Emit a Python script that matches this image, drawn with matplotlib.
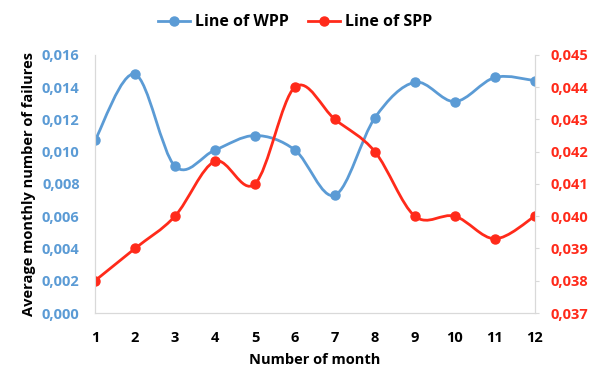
import numpy as np
import matplotlib.pyplot as plt
from matplotlib.path import Path
from matplotlib.patches import PathPatch
from matplotlib.ticker import FuncFormatter, MultipleLocator

months = [1, 2, 3, 4, 5, 6, 7, 8, 9, 10, 11, 12]
wpp = [0.0107, 0.0148, 0.0091, 0.0101, 0.0110, 0.0101, 0.0073, 0.0121, 0.0143, 0.0131, 0.0146, 0.0144]
spp = [0.0380, 0.0390, 0.0400, 0.0417, 0.0410, 0.0440, 0.0430, 0.0420, 0.0400, 0.0400, 0.0393, 0.0400]

blue = '#5B9BD5'
red = '#FF2A1A'
plt.rcParams['font.family'] = ['Open Sans', 'DejaVu Sans']
plt.rcParams['font.weight'] = 'bold'
plt.rcParams['axes.labelweight'] = 'bold'


def smooth_path(x, y):
    # excel style smoothed line: bezier segments through each point
    x = np.asarray(x, float)
    y = np.asarray(y, float)
    verts = [(x[0], y[0])]
    codes = [Path.MOVETO]
    n = len(x)
    for i in range(n - 1):
        p0 = i - 1 if i > 0 else i
        p3 = i + 2 if i + 2 < n else i + 1
        c1 = (x[i] + (x[i + 1] - x[p0]) / 6, y[i] + (y[i + 1] - y[p0]) / 6)
        c2 = (x[i + 1] - (x[p3] - x[i]) / 6, y[i + 1] - (y[p3] - y[i]) / 6)
        verts += [c1, c2, (x[i + 1], y[i + 1])]
        codes += [Path.CURVE4] * 3
    return Path(verts, codes)


fig = plt.figure(figsize=(5.96, 3.72), dpi=100)
ax = fig.add_axes([0.1594, 0.1586, 0.738, 0.694])
ax2 = ax.twinx()

ax.add_patch(PathPatch(smooth_path(months, wpp), fill=False, edgecolor=blue, lw=2))
ax.plot(months, wpp, 'o', color=blue, ms=6.5)
ax2.add_patch(PathPatch(smooth_path(months, spp), fill=False, edgecolor=red, lw=2))
ax2.plot(months, spp, 'o', color=red, ms=6.5)

ax.set_xlim(1, 12)
ax.set_ylim(0, 0.016)
ax2.set_ylim(0.037, 0.045)
ax.set_xticks(months)
ax.yaxis.set_major_locator(MultipleLocator(0.002))
ax2.yaxis.set_major_locator(MultipleLocator(0.001))
ax.yaxis.set_major_formatter(FuncFormatter(lambda v, p: f'{v:.3f}'.replace('.', ',')))
ax2.yaxis.set_major_formatter(FuncFormatter(lambda v, p: f'{v:.3f}'.replace('.', ',')))

for a in (ax, ax2):
    for s in a.spines.values():
        s.set_color('#D9D9D9')
    a.spines['top'].set_visible(False)
ax.tick_params(axis='y', length=0, pad=11, labelsize=10.5, labelcolor=blue)
ax.tick_params(axis='x', length=0, pad=13, labelsize=10.5)
ax2.tick_params(axis='y', length=3, color='#D9D9D9', pad=8, labelsize=10.5, labelcolor=red)

ax.set_ylabel('Average monthly number of failures', fontsize=10.5, labelpad=4)
ax.set_xlabel('Number of month', fontsize=10.5, labelpad=6)

h1, = ax.plot([], [], '-o', color=blue, lw=2, ms=6.5, label='Line of WPP')
h2, = ax.plot([], [], '-o', color=red, lw=2, ms=6.5, label='Line of SPP')
fig.legend(handles=[h1, h2], loc='upper center', bbox_to_anchor=(0.495, 1.0), ncol=2,
           frameon=False, fontsize=11.5, handlelength=2.0, columnspacing=1.2, handletextpad=0.3)

plt.savefig('out.png', dpi=100)
